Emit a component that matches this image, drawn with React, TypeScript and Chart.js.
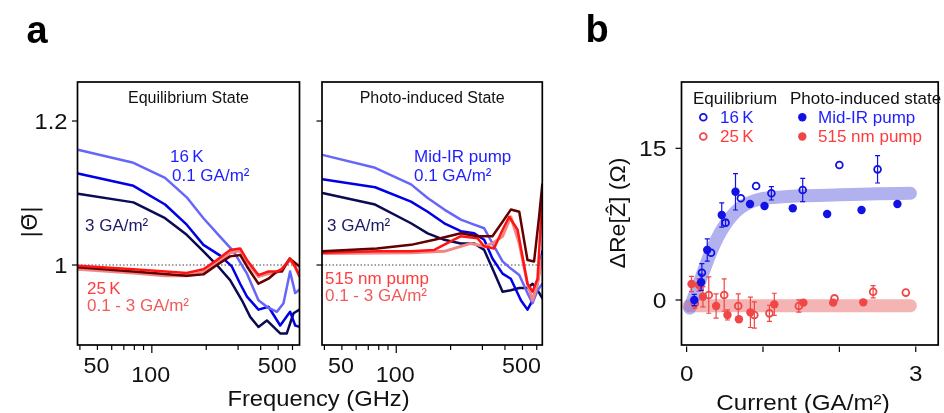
import React, { useEffect, useRef } from "react";
import { Chart, registerables } from "chart.js";

Chart.register(...registerables);

const FONT = '"Liberation Sans", Arial, Helvetica, sans-serif';

// ---------------- Panel a : axes ----------------
const FREQ_TICKS = [40, 50, 60, 70, 80, 90, 100, 200, 300, 400, 500, 600];
const FREQ_LABEL_VALUES = [50, 100, 500];
const THETA_TICKS = [1.0, 1.2];
const THETA_LABELS = ["1", "1.2"];

type Pt = [number, number];

// Equilibrium state: [frequency (GHz), |Theta|]
const EQ_16K_01: Pt[] = [[39, 1.16], [79.1, 1.142], [118.4, 1.121], [156, 1.094], [193, 1.065], [239, 1.039], [283, 1.019], [336, 0.988], [389, 0.951], [433, 0.942], [492, 0.935], [535, 0.947], [582, 0.991], [621, 0.961], [656, 0.966]];
const EQ_16K_1: Pt[] = [[39, 1.127], [79.1, 1.11], [118.4, 1.084], [156, 1.056], [193, 1.028], [239, 1.013], [277, 0.998], [308, 0.974], [336, 0.956], [389, 0.938], [442, 0.942], [513, 0.916], [582, 0.935], [621, 0.916], [656, 0.914]];
const EQ_16K_3: Pt[] = [[39, 1.099], [79.1, 1.087], [118.4, 1.065], [156, 1.042], [193, 1.019], [229, 1.0], [271, 0.979], [315, 0.951], [350, 0.928], [389, 0.914], [433, 0.923], [513, 0.905], [558, 0.905], [608, 0.933], [656, 0.938]];
const EQ_25K_01: Pt[] = [[39, 0.994], [79.1, 0.989], [118.4, 0.985], [156, 0.985], [193, 0.99], [229, 1.003], [271, 1.017], [308, 1.02], [336, 1.004], [389, 0.984], [442, 0.988], [492, 0.99], [524, 0.995], [582, 1.007], [621, 0.997], [656, 0.985]];
const EQ_25K_1: Pt[] = [[39, 0.999], [79.1, 0.994], [156, 0.989], [193, 0.994], [229, 1.007], [271, 1.021], [308, 1.023], [336, 1.007], [389, 0.986], [442, 0.991], [492, 0.991], [524, 0.994], [582, 1.009], [621, 0.998], [656, 0.984]];
const EQ_25K_3: Pt[] = [[39, 0.997], [79.1, 0.991], [156, 0.985], [193, 0.987], [229, 1.0], [271, 1.012], [308, 1.014], [336, 0.998], [389, 0.974], [442, 0.981], [492, 0.991], [524, 0.991], [578, 1.009], [656, 0.998]];

// Photo-induced state
const PH_MIR_01: Pt[] = [[39, 1.153], [76.4, 1.135], [120.7, 1.112], [149.3, 1.093], [184.6, 1.077], [228, 1.063], [270, 1.056], [307, 1.051], [341, 1.03], [388, 1.005], [431, 0.995], [480, 0.986], [533, 0.961], [569, 0.947], [606, 0.965], [644, 0.974]];
const PH_MIR_1: Pt[] = [[39, 1.119], [76.4, 1.108], [120.7, 1.088], [149.3, 1.074], [184.6, 1.058], [228, 1.047], [270, 1.044], [307, 1.035], [341, 1.009], [388, 0.988], [431, 0.981], [490, 0.951], [533, 0.938], [569, 0.951], [606, 0.974], [644, 1.019]];
const PH_MIR_3: Pt[] = [[39, 1.1], [76.4, 1.084], [120.7, 1.058], [149.3, 1.044], [184.6, 1.035], [228, 1.03], [270, 1.03], [307, 1.021], [341, 0.995], [388, 0.963], [431, 0.965], [480, 0.968], [533, 0.968], [569, 0.974], [606, 0.965], [644, 0.954]];
const PH_VIS_01: Pt[] = [[39, 1.016], [120.7, 1.017], [184.6, 1.019], [259, 1.03], [307, 1.026], [341, 1.03], [388, 1.04], [431, 1.067], [480, 1.03], [533, 0.974], [569, 0.951], [606, 0.974], [644, 1.012]];
const PH_VIS_1: Pt[] = [[39, 1.017], [78.1, 1.019], [120.7, 1.019], [162.4, 1.021], [228, 1.04], [282, 1.037], [307, 1.026], [348, 1.023], [388, 1.049], [422, 1.067], [470, 1.049], [533, 0.974], [569, 0.963], [606, 0.981], [644, 1.095]];
const PH_VIS_3: Pt[] = [[39, 1.019], [78.1, 1.023], [120.7, 1.028], [162.4, 1.035], [228, 1.044], [282, 1.04], [341, 1.04], [388, 1.06], [431, 1.077], [480, 1.074], [533, 1.007], [580, 1.005], [618, 1.067], [644, 1.112]];

// ---------------- Panel b : data ----------------
const CUR_TICKS = [0, 1, 2, 3];
const CUR_LABEL_VALUES = [0, 3];
const DZ_TICKS = [0, 15];

const MIR_X = [0.1, 0.19, 0.27, 0.46, 0.64, 0.83, 1.02, 1.39, 1.84, 2.29, 2.76];
const MIR_Y = [0.0, 1.75, 4.95, 8.4, 10.7, 9.5, 9.3, 9.07, 8.5, 8.9, 9.5];
const MIR_ERR = [0.55, 0.8, 1.1, 1.2, 1.8, 0, 0, 0, 0, 0, 0];

const K16_X = [0.2, 0.32, 0.51, 0.71, 0.91, 1.11, 1.52, 2.0, 2.5];
const K16_Y = [2.7, 4.68, 7.65, 10.06, 11.28, 10.55, 10.88, 13.35, 12.92];
const K16_ERR = [0.9, 0, 0.3, 0, 0, 0.66, 1.15, 0, 1.35];

const VIS_X = [0.064, 0.162, 0.214, 0.386, 0.535, 0.685, 0.835, 1.148, 1.529, 1.919, 2.313];
const VIS_Y = [1.58, 1.48, 0.33, -0.59, -1.48, -1.91, -1.22, -0.43, -0.26, -0.26, -0.23];
const VIS_ERR = [0.75, 0.6, 1.0, 1.2, 0.5, 0, 1.5, 1.1, 0, 0, 0];

const K25_X = [0.107, 0.29, 0.492, 0.676, 0.887, 1.084, 1.469, 1.936, 2.442, 2.87];
const K25_Y = [-0.33, 0.49, 0.49, -0.59, -1.48, -1.32, -0.59, 0.16, 0.82, 0.73];
const K25_ERR = [0.5, 1.8, 1.6, 1.2, 1.3, 0.8, 0.6, 0, 0.6, 0];

const FIT_BLUE_X = [0.04, 0.1, 0.2, 0.3, 0.4, 0.5, 0.6, 0.7, 0.8, 0.9, 1.0, 1.25, 1.5, 2.0, 2.5, 2.93];
const FIT_BLUE_Y = [-0.8, 0.4, 2.4, 4.4, 6.1, 7.4, 8.4, 9.1, 9.55, 9.85, 10.05, 10.2, 10.3, 10.4, 10.5, 10.55];
const FIT_RED_X = [0.03, 2.93];
const FIT_RED_Y = [-0.56, -0.56];

// ---------------- colours ----------------
const BLUE_LIGHT = "#6666fa";
const BLUE = "#0000e6";
const NAVY = "#0a0a55";
const PINK = "#f28585";
const RED = "#ff1414";
const DARK_RED = "#640000";
const NOTE_BLUE = "#1e1eff";
const NOTE_NAVY = "#1a1a66";
const NOTE_RED = "#ff3c3c";
const NOTE_RED2 = "#f25a5a";
const B_BLUE = "#1212e6";
const B_RED = "#f04646";

type TextOpts = { size: number; color?: string; align?: CanvasTextAlign; base?: CanvasTextBaseline; bold?: boolean; sx?: number; rot?: number; family?: string };

function drawText(ctx: CanvasRenderingContext2D, s: string, x: number, y: number, o: TextOpts) {
  ctx.save();
  ctx.translate(x, y);
  if (o.rot) ctx.rotate(o.rot);
  ctx.scale(o.sx ?? 1, 1);
  ctx.font = `${o.bold ? "bold " : ""}${o.size}px ${o.family ?? FONT}`;
  ctx.fillStyle = o.color ?? "#111";
  ctx.textAlign = o.align ?? "left";
  ctx.textBaseline = o.base ?? "alphabetic";
  ctx.fillText(s, 0, 0);
  ctx.restore();
}

type Note = { t: string; x: number; y: number; c: string };

function panelAPlugin(cfg: { id: string; title: string; yLabels: boolean; notes: Note[]; extra?: (ctx: CanvasRenderingContext2D) => void }) {
  return {
    id: cfg.id,
    beforeDatasetsDraw(chart: any) {
      const { ctx, chartArea: ca, scales } = chart;
      const y1 = scales.y.getPixelForValue(1);
      ctx.save();
      ctx.strokeStyle = "#444";
      ctx.lineWidth = 1;
      ctx.setLineDash([1.5, 2]);
      ctx.beginPath();
      ctx.moveTo(ca.left, y1);
      ctx.lineTo(ca.right, y1);
      ctx.stroke();
      ctx.restore();
    },
    afterDraw(chart: any) {
      const { ctx, chartArea: ca, scales } = chart;
      ctx.save();
      ctx.strokeStyle = "#000";
      ctx.lineWidth = 1.7;
      ctx.strokeRect(ca.left, ca.top, ca.right - ca.left, ca.bottom - ca.top);
      ctx.lineWidth = 1.2;
      for (const v of FREQ_TICKS) {
        const px = scales.x.getPixelForValue(v);
        const len = v === 100 ? 8 : 5;
        ctx.beginPath();
        ctx.moveTo(px, ca.bottom);
        ctx.lineTo(px, ca.bottom + len);
        ctx.stroke();
      }
      THETA_TICKS.forEach((v, i) => {
        const py = scales.y.getPixelForValue(v);
        ctx.beginPath();
        ctx.moveTo(ca.left - 5.5, py);
        ctx.lineTo(ca.left, py);
        ctx.stroke();
        if (cfg.yLabels) drawText(ctx, THETA_LABELS[i], ca.left - 10, py + 8, { size: 22, align: "right", sx: 1.08 });
      });
      FREQ_LABEL_VALUES.forEach((v) => {
        const px = scales.x.getPixelForValue(v) - 1;
        drawText(ctx, String(v), px, v === 100 ? 382 : 373, { size: 22, align: "center", sx: 1.06 });
      });
      drawText(ctx, cfg.title, (ca.left + ca.right) / 2, 103, { size: 16, align: "center" });
      for (const n of cfg.notes) drawText(ctx, n.t, n.x, n.y, { size: 17, color: n.c });
      if (cfg.extra) cfg.extra(ctx);
      ctx.restore();
    },
  };
}

function lineDs(pts: Pt[], color: string, width: number) {
  return {
    data: pts.map(([x, y]) => ({ x, y })),
    borderColor: color,
    borderWidth: width,
    pointRadius: 0,
    fill: false,
    tension: 0,
    borderJoinStyle: "round",
    borderCapStyle: "round",
  };
}

function panelAConfig(datasets: any[], padding: any, xMax: number, plugin: any) {
  return {
    type: "line",
    data: { datasets },
    options: {
      responsive: false,
      animation: false,
      devicePixelRatio: 1,
      events: [],
      layout: { padding },
      plugins: { legend: { display: false }, tooltip: { enabled: false }, title: { display: false } },
      scales: {
        x: { type: "logarithmic", min: 38.8, max: xMax, display: false },
        y: { type: "linear", min: 0.8889, max: 1.2542, display: false },
      },
    },
    plugins: [plugin],
  };
}

const makeEq = () =>
  panelAConfig(
    [
      lineDs(EQ_25K_1, RED, 2.5),
      lineDs(EQ_25K_3, DARK_RED, 2.5),
      lineDs(EQ_25K_01, PINK, 3),
      lineDs(EQ_16K_01, BLUE_LIGHT, 2.5),
      lineDs(EQ_16K_1, BLUE, 2.5),
      lineDs(EQ_16K_3, NAVY, 2.5),
    ],
    { left: 77.5, top: 82, right: 944 - 299.5, bottom: 413 - 345 },
    656,
    panelAPlugin({
      id: "eq",
      title: "Equilibrium State",
      yLabels: true,
      notes: [
        { t: "16\u2009K", x: 170, y: 162, c: NOTE_BLUE },
        { t: "0.1 GA/m\u00b2", x: 172, y: 181, c: NOTE_BLUE },
        { t: "3 GA/m\u00b2", x: 85, y: 231, c: NOTE_NAVY },
        { t: "25\u2009K", x: 87, y: 294, c: NOTE_RED },
        { t: "0.1 - 3 GA/m\u00b2", x: 87, y: 311, c: NOTE_RED2 },
      ],
      extra: (ctx) => {
        drawText(ctx, "a", 26.5, 43, { size: 38, bold: true, color: "#000" });
        drawText(ctx, "|\u0398\u0304|", 36.5, 222, { size: 22, align: "center", rot: -Math.PI / 2, family: '"DejaVu Sans", sans-serif' });
        drawText(ctx, "Frequency (GHz)", 318.5, 406, { size: 22, align: "center", sx: 1.08 });
      },
    })
  );

const makePh = () =>
  panelAConfig(
    [
      lineDs(PH_VIS_3, DARK_RED, 2.5),
      lineDs(PH_VIS_1, RED, 2.5),
      lineDs(PH_VIS_01, PINK, 3),
      lineDs(PH_MIR_01, BLUE_LIGHT, 2.5),
      lineDs(PH_MIR_1, BLUE, 2.5),
      lineDs(PH_MIR_3, NAVY, 2.5),
    ],
    { left: 322, top: 82, right: 944 - 542.3, bottom: 413 - 345 },
    644,
    panelAPlugin({
      id: "ph",
      title: "Photo-induced State",
      yLabels: false,
      notes: [
        { t: "Mid-IR pump", x: 414, y: 162, c: NOTE_BLUE },
        { t: "0.1 GA/m\u00b2", x: 414, y: 181, c: NOTE_BLUE },
        { t: "3 GA/m\u00b2", x: 327, y: 231, c: NOTE_NAVY },
        { t: "515 nm pump", x: 325, y: 284, c: NOTE_RED },
        { t: "0.1 - 3 GA/m\u00b2", x: 325, y: 301, c: NOTE_RED2 },
      ],
    })
  );

const zip = (xs: number[], ys: number[]) => xs.map((x, i) => ({ x, y: ys[i] }));

const errorBarPlugin = {
  id: "errbars",
  beforeDatasetDraw(chart: any, args: any) {
    const ds = chart.data.datasets[args.index];
    if (!ds.errs) return;
    const { ctx } = chart;
    const xs = chart.scales.x;
    const ys = chart.scales.y;
    ctx.save();
    ctx.strokeStyle = ds.errColor;
    ctx.lineWidth = 1.2;
    ds.data.forEach((p: any, i: number) => {
      const e = ds.errs[i];
      if (!e) return;
      const px = xs.getPixelForValue(p.x);
      const top = ys.getPixelForValue(p.y + e);
      const bot = ys.getPixelForValue(p.y - e);
      ctx.beginPath();
      ctx.moveTo(px, top);
      ctx.lineTo(px, bot);
      ctx.moveTo(px - 2.5, top);
      ctx.lineTo(px + 2.5, top);
      ctx.moveTo(px - 2.5, bot);
      ctx.lineTo(px + 2.5, bot);
      ctx.stroke();
    });
    ctx.restore();
  },
};

const panelBDecor = {
  id: "bdecor",
  afterDraw(chart: any) {
    const { ctx, chartArea: ca, scales } = chart;
    ctx.save();
    ctx.strokeStyle = "#000";
    ctx.lineWidth = 1.7;
    ctx.strokeRect(ca.left, ca.top, ca.right - ca.left, ca.bottom - ca.top);
    ctx.lineWidth = 1.2;
    for (const v of CUR_TICKS) {
      const px = scales.x.getPixelForValue(v);
      ctx.beginPath();
      ctx.moveTo(px, ca.bottom + 1.5);
      ctx.lineTo(px, ca.bottom + 7);
      ctx.stroke();
    }
    for (const v of CUR_LABEL_VALUES) {
      drawText(ctx, String(v), scales.x.getPixelForValue(v), 381, { size: 22, align: "center", sx: 1.1 });
    }
    for (const v of DZ_TICKS) {
      const py = scales.y.getPixelForValue(v);
      ctx.beginPath();
      ctx.moveTo(ca.left - 6, py);
      ctx.lineTo(ca.left, py);
      ctx.stroke();
      drawText(ctx, String(v), ca.left - 15, py + 8, { size: 22, align: "right", sx: 1.12 });
    }
    drawText(ctx, "b", 585.5, 42, { size: 38, bold: true, color: "#000" });
    drawText(ctx, "\u0394Re[\u1E90] (\u03A9)", 625, 213, { size: 22, align: "center", rot: -Math.PI / 2, sx: 1.05 });
    drawText(ctx, "Current (GA/m\u00b2)", 803, 410, { size: 22, align: "center", sx: 1.1 });
    // legend
    drawText(ctx, "Equilibrium", 693, 104, { size: 17 });
    drawText(ctx, "Photo-induced state", 790, 104, { size: 17 });
    drawText(ctx, "16\u2009K", 720, 123, { size: 17, color: NOTE_BLUE });
    drawText(ctx, "25\u2009K", 720, 142, { size: 17, color: NOTE_RED });
    drawText(ctx, "Mid-IR pump", 818, 123, { size: 17, color: NOTE_BLUE });
    drawText(ctx, "515 nm pump", 818, 142, { size: 17, color: NOTE_RED });
    ctx.lineWidth = 1.8;
    ctx.strokeStyle = B_BLUE;
    ctx.beginPath();
    ctx.arc(703.3, 117.3, 3.4, 0, Math.PI * 2);
    ctx.stroke();
    ctx.strokeStyle = B_RED;
    ctx.beginPath();
    ctx.arc(703.3, 136.5, 3.4, 0, Math.PI * 2);
    ctx.stroke();
    ctx.fillStyle = B_BLUE;
    ctx.beginPath();
    ctx.arc(802.3, 117.3, 4.2, 0, Math.PI * 2);
    ctx.fill();
    ctx.fillStyle = B_RED;
    ctx.beginPath();
    ctx.arc(802.3, 136.5, 4.2, 0, Math.PI * 2);
    ctx.fill();
    ctx.restore();
  },
};

const makeB = () => ({
  type: "scatter",
  data: {
    datasets: [
      { label: "Mid-IR pump", data: zip(MIR_X, MIR_Y), errs: MIR_ERR, errColor: B_BLUE, pointRadius: 4.2, pointBackgroundColor: B_BLUE, pointBorderColor: B_BLUE, pointBorderWidth: 0, showLine: false },
      { label: "16 K", data: zip(K16_X, K16_Y), errs: K16_ERR, errColor: B_BLUE, pointRadius: 3.4, pointBackgroundColor: "rgba(255,255,255,0)", pointBorderColor: B_BLUE, pointBorderWidth: 1.8, showLine: false },
      { label: "515 nm pump", data: zip(VIS_X, VIS_Y), errs: VIS_ERR, errColor: B_RED, pointRadius: 4.2, pointBackgroundColor: B_RED, pointBorderColor: B_RED, pointBorderWidth: 0, showLine: false },
      { label: "25 K", data: zip(K25_X, K25_Y), errs: K25_ERR, errColor: B_RED, pointRadius: 3.4, pointBackgroundColor: "rgba(255,255,255,0)", pointBorderColor: B_RED, pointBorderWidth: 1.8, showLine: false },
      { label: "fit blue", data: zip(FIT_BLUE_X, FIT_BLUE_Y), showLine: true, pointRadius: 0, borderColor: "rgba(100,100,225,0.5)", borderWidth: 13, borderCapStyle: "round", borderJoinStyle: "round", cubicInterpolationMode: "monotone" },
      { label: "fit red", data: zip(FIT_RED_X, FIT_RED_Y), showLine: true, pointRadius: 0, borderColor: "rgba(235,105,105,0.5)", borderWidth: 13, borderCapStyle: "round" },
    ],
  },
  options: {
    responsive: false,
    animation: false,
    devicePixelRatio: 1,
    events: [],
    layout: { padding: { left: 681.5, top: 82, right: 1, bottom: 413 - 345 } },
    plugins: { legend: { display: false }, tooltip: { enabled: false }, title: { display: false } },
    scales: {
      x: { type: "linear", min: -0.067, max: 3.294, display: false },
      y: { type: "linear", min: -4.45, max: 21.56, display: false },
    },
  },
  plugins: [errorBarPlugin, panelBDecor],
});

function ChartCanvas({ make }: { make: () => any }) {
  const ref = useRef<HTMLCanvasElement>(null);
  useEffect(() => {
    const chart = new Chart(ref.current as HTMLCanvasElement, make());
    return () => chart.destroy();
  }, []);
  return (
    <canvas
      ref={ref}
      width={944}
      height={413}
      style={{ position: "absolute", left: 0, top: 0, width: 944, height: 413 }}
    />
  );
}

export default function App() {
  return (
    <div style={{ position: "fixed", left: 0, top: 0, width: 944, height: 413, background: "#fff", overflow: "hidden" }}>
      <ChartCanvas make={makeEq} />
      <ChartCanvas make={makePh} />
      <ChartCanvas make={makeB} />
    </div>
  );
}
